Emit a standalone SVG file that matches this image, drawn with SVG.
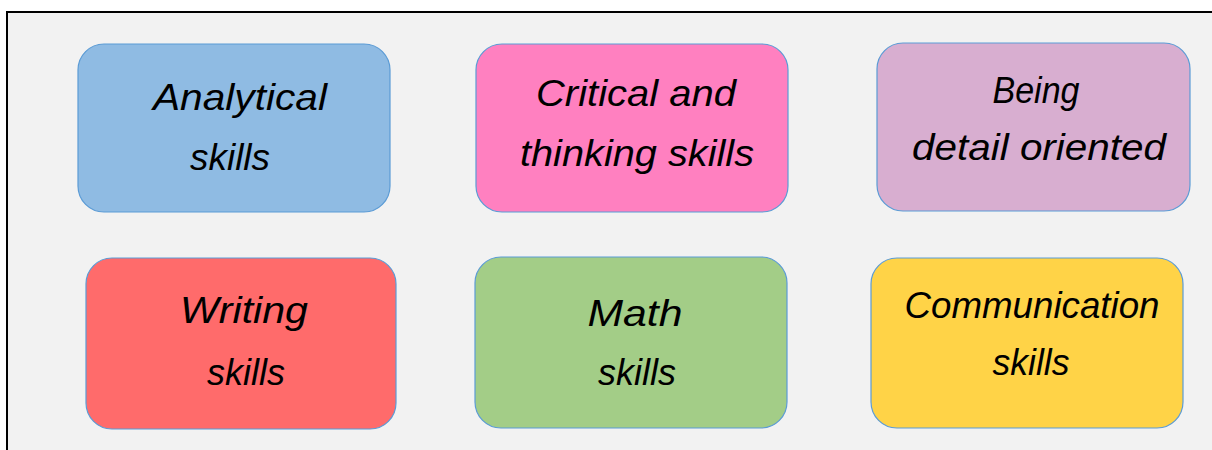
<svg xmlns="http://www.w3.org/2000/svg" width="1212" height="450" viewBox="0 0 1212 450">
<style>
.box{stroke:#5b9bd5;stroke-width:1.2}
.t{font-family:"Liberation Sans","DejaVu Sans",sans-serif;font-style:italic;font-size:36px;fill:#000;text-anchor:middle}
</style>
<rect x="0" y="0" width="1212" height="450" fill="#ffffff"/>
<rect x="7" y="12" width="1215" height="450" fill="#f2f2f2" stroke="#000" stroke-width="2"/>
<g id="connectors"></g>
<g id="analytical">
<rect class="box" x="78" y="44" width="312" height="168" rx="26" fill="#8fbbe3"/>
<text class="t" x="240" y="110" textLength="174" lengthAdjust="spacingAndGlyphs">Analytical</text>
<text class="t" x="230" y="170" textLength="80" lengthAdjust="spacingAndGlyphs">skills</text>
</g>
<g id="critical">
<rect class="box" x="476" y="44" width="312" height="168" rx="26" fill="#ff80c0"/>
<text class="t" x="636" y="106" textLength="200" lengthAdjust="spacingAndGlyphs">Critical and</text>
<text class="t" x="637" y="166" textLength="234" lengthAdjust="spacingAndGlyphs">thinking skills</text>
</g>
<g id="detail">
<rect class="box" x="877" y="43" width="313" height="168" rx="26" fill="#d8aed0"/>
<text class="t" x="1036" y="103" textLength="87" lengthAdjust="spacingAndGlyphs">Being</text>
<text class="t" x="1039" y="160" textLength="254" lengthAdjust="spacingAndGlyphs">detail oriented</text>
</g>
<g id="writing">
<rect class="box" x="86" y="258" width="310" height="171" rx="26" fill="#ff6b6b"/>
<text class="t" x="244" y="323" textLength="128" lengthAdjust="spacingAndGlyphs">Writing</text>
<text class="t" x="246" y="385" textLength="78" lengthAdjust="spacingAndGlyphs">skills</text>
</g>
<g id="math">
<rect class="box" x="475" y="257" width="312" height="171" rx="26" fill="#a3cd87"/>
<text class="t" x="635" y="326" textLength="95" lengthAdjust="spacingAndGlyphs">Math</text>
<text class="t" x="637" y="385" textLength="78" lengthAdjust="spacingAndGlyphs">skills</text>
</g>
<g id="communication">
<rect class="box" x="871" y="258" width="312" height="170" rx="26" fill="#ffd347"/>
<text class="t" x="1032" y="318" textLength="255" lengthAdjust="spacingAndGlyphs">Communication</text>
<text class="t" x="1031" y="375" textLength="77" lengthAdjust="spacingAndGlyphs">skills</text>
</g>
</svg>
